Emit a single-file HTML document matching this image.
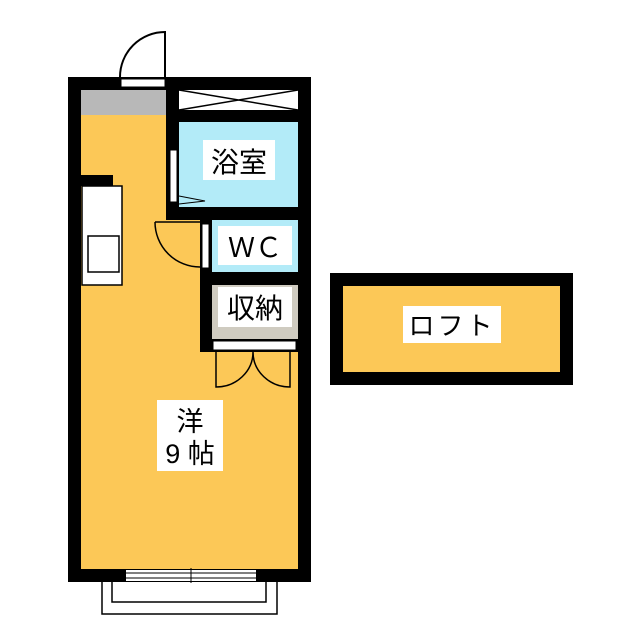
<!DOCTYPE html>
<html><head><meta charset="utf-8"><style>
html,body{margin:0;padding:0;background:#fff;}
svg{display:block;}
text{font-family:"Liberation Sans","Noto Sans CJK JP",sans-serif;fill:#000;}
</style></head><body>
<svg width="640" height="640" viewBox="0 0 640 640" xmlns="http://www.w3.org/2000/svg">
<rect x="68" y="77" width="243" height="505" fill="#000"/>
<rect x="81" y="90" width="217" height="479" fill="#fcc857"/>
<rect x="81" y="90" width="85" height="25" fill="#b8b8b8"/>
<rect x="121" y="79" width="44" height="8" fill="#fff" stroke="#000" stroke-width="1"/>
<path d="M120 77 A45 45 0 0 1 165 32 L165 77" fill="none" stroke="#000" stroke-width="2"/>
<rect x="166" y="90" width="132" height="130" fill="#000"/>
<rect x="200" y="220" width="98" height="132" fill="#000"/>
<rect x="179" y="90" width="119" height="20" fill="#fff"/>
<path d="M179 90 L298 110 M179 110 L298 90" stroke="#000" stroke-width="1.5"/>
<rect x="179" y="122" width="119" height="85" fill="#b3ebf8"/>
<rect x="170" y="150" width="7" height="52" fill="#fff" stroke="#000" stroke-width="1"/>
<path d="M179 196 L205 201 L179 204" fill="none" stroke="#000" stroke-width="1"/>
<rect x="203" y="140" width="72" height="40" fill="#fff"/>
<text x="239" y="172" font-size="28" text-anchor="middle">浴室</text>
<rect x="212" y="220" width="86" height="52" fill="#b3ebf8"/>
<rect x="202" y="224" width="7" height="44" fill="#fff" stroke="#000" stroke-width="1"/>
<path d="M155 222 L200 222 M155 222 A45 45 0 0 0 200 267" fill="none" stroke="#000" stroke-width="1.5"/>
<rect x="218" y="226" width="74" height="39" fill="#fff"/>
<text x="255" y="257" font-size="27" text-anchor="middle">ＷＣ</text>
<rect x="212" y="285" width="86" height="54" fill="#cfcbc0"/>
<rect x="218" y="287" width="74" height="40" fill="#fff"/>
<text x="255" y="318" font-size="28" text-anchor="middle">収納</text>
<rect x="213" y="341" width="83" height="9" fill="#fff" stroke="#000" stroke-width="1"/>
<path d="M216 352 L216 387 A37 35 0 0 0 253 352 A37 35 0 0 0 290 387 L290 352" fill="none" stroke="#000" stroke-width="1.5"/>
<rect x="81" y="175" width="32" height="11" fill="#000"/>
<rect x="82" y="186" width="40" height="99" fill="#fff" stroke="#000" stroke-width="1.5"/>
<rect x="88" y="236" width="31" height="36" fill="#fff" stroke="#000" stroke-width="1.5"/>
<rect x="157" y="400" width="66" height="71" fill="#fff"/>
<text x="190" y="431" font-size="27" text-anchor="middle">洋</text>
<text x="190" y="463" font-size="27" text-anchor="middle">9 帖</text>
<rect x="126" y="570" width="130" height="11" fill="#fff"/>
<path d="M126 573 L256 573 M126 578 L256 578 M191 568 L191 583" stroke="#000" stroke-width="1"/>
<path d="M102 582 L102 614 L277 614 L277 582 M112 582 L112 602 L266 602 L266 582" fill="none" stroke="#000" stroke-width="1.5"/>
<rect x="330" y="273" width="243" height="112" fill="#000"/>
<rect x="343" y="286" width="217" height="86" fill="#fcc857"/>
<rect x="403" y="306" width="98" height="37" fill="#fff"/>
<text x="452" y="335" font-size="26" text-anchor="middle" letter-spacing="3">ロフト</text>
</svg>
</body></html>
